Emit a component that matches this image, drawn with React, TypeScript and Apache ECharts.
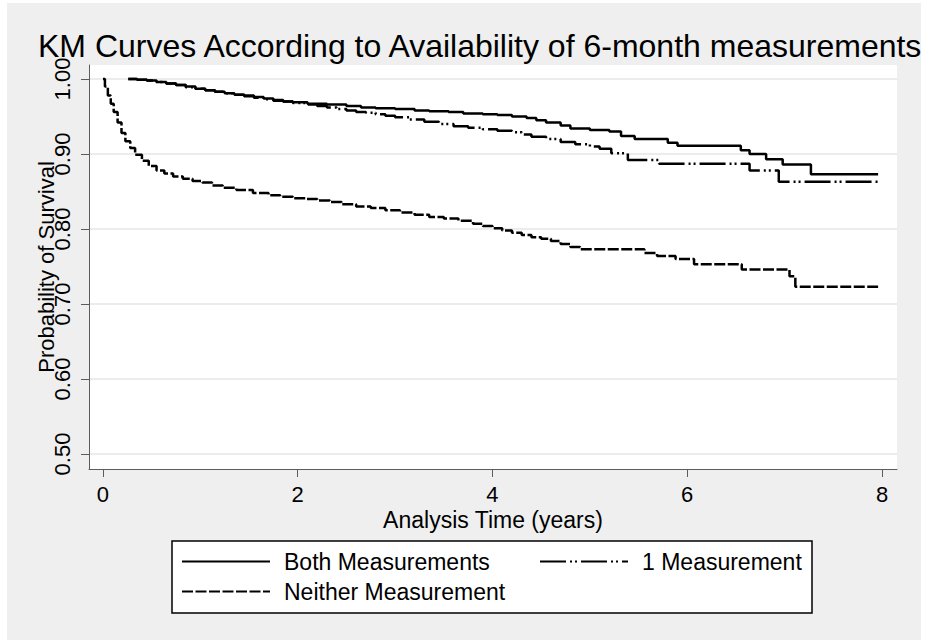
import React, { useEffect, useRef } from "react";
import * as echarts from "echarts";

// Kaplan-Meier estimates: [time of event in years, survival after the event]
const bothTimes = [
  0.26, 0.35, 0.45, 0.55, 0.65, 0.75, 0.85, 0.95, 1.05, 1.15, 1.25, 1.35, 1.45,
  1.55, 1.65, 1.75, 1.85, 1.95, 2.1, 2.3, 2.5, 2.65, 2.8, 3.0, 3.2, 3.35, 3.55,
  3.7, 3.9, 4.05, 4.2, 4.35, 4.45, 4.55, 4.7, 4.8, 5.0, 5.2, 5.32, 5.46, 5.8,
  5.9, 6.55, 6.64, 6.81, 6.98, 7.27, 7.96,
];
const bothSurvival = [
  1.0, 0.999, 0.998, 0.996, 0.994, 0.992, 0.99, 0.987, 0.985, 0.983, 0.981,
  0.979, 0.978, 0.976, 0.974, 0.972, 0.97, 0.969, 0.967, 0.966, 0.964, 0.962,
  0.961, 0.96, 0.958, 0.957, 0.956, 0.954, 0.953, 0.952, 0.95, 0.948, 0.945,
  0.942, 0.938, 0.934, 0.932, 0.93, 0.924, 0.92, 0.915, 0.911, 0.905, 0.9,
  0.893, 0.886, 0.873, 0.873,
];

const oneTimes = [
  0.26, 0.35, 0.45, 0.55, 0.65, 0.75, 0.85, 0.95, 1.05, 1.15, 1.25, 1.35, 1.45,
  1.55, 1.65, 1.75, 1.85, 1.95, 2.1, 2.2, 2.3, 2.4, 2.5, 2.6, 2.7, 2.8, 2.9,
  3.0, 3.15, 3.3, 3.45, 3.6, 3.75, 3.9, 4.05, 4.2, 4.3, 4.4, 4.55, 4.7, 4.85,
  5.0, 5.1, 5.22, 5.39, 5.71, 6.64, 6.94, 7.96,
];
const oneSurvival = [
  1.0, 0.999, 0.998, 0.996, 0.994, 0.992, 0.989, 0.987, 0.985, 0.983, 0.981,
  0.979, 0.977, 0.975, 0.973, 0.971, 0.97, 0.968, 0.966, 0.964, 0.962, 0.96,
  0.958, 0.956, 0.955, 0.953, 0.951, 0.949, 0.946, 0.943, 0.94, 0.937, 0.935,
  0.933, 0.931, 0.929, 0.926, 0.923, 0.92, 0.916, 0.913, 0.91, 0.907, 0.901,
  0.892, 0.887, 0.878, 0.863, 0.863,
];

const neitherTimes = [
  0, 0.02, 0.05, 0.08, 0.11, 0.15, 0.19, 0.23, 0.28, 0.33, 0.4, 0.47, 0.55,
  0.63, 0.72, 0.82, 0.92, 1.02, 1.12, 1.23, 1.37, 1.54, 1.7, 1.82, 1.95, 2.09,
  2.2, 2.33, 2.45, 2.6, 2.75, 2.9, 3.05, 3.2, 3.35, 3.5, 3.65, 3.8, 3.9, 4.0,
  4.1, 4.2, 4.3, 4.4, 4.5, 4.6, 4.7, 4.8, 4.9, 5.56, 5.69, 5.88, 6.07, 6.56,
  7.05, 7.11, 7.96,
];
const neitherSurvival = [
  1.0, 0.99, 0.978, 0.967, 0.956, 0.942, 0.928, 0.917, 0.908, 0.899, 0.891,
  0.884, 0.878, 0.874, 0.87, 0.867, 0.864, 0.862, 0.858, 0.855, 0.852, 0.848,
  0.845, 0.843, 0.841, 0.84, 0.838, 0.836, 0.833, 0.83, 0.828, 0.825, 0.822,
  0.819, 0.816, 0.814, 0.811, 0.807, 0.804, 0.801, 0.798, 0.795, 0.792, 0.789,
  0.787, 0.784, 0.78, 0.776, 0.773, 0.768, 0.764, 0.76, 0.753, 0.746, 0.737,
  0.723, 0.723,
];

const seriesNames = ["Both Measurements", "1 Measurement", "Neither Measurement"];
const xTicks = [0, 2, 4, 6, 8];
const yTicks = [0.5, 0.6, 0.7, 0.8, 0.9, 1.0];

const FONT = "'Liberation Sans', Arial, Helvetica, sans-serif";

const pairs = (t: number[], s: number[]) => t.map((x, i) => [x, s[i]]);

export default function App() {
  const ref = useRef<HTMLDivElement>(null);

  useEffect(() => {
    if (!ref.current) return;
    const chart = echarts.init(ref.current, null, { renderer: "svg" });

    const axisColor = "#5c5c5c";
    const legendText = { fontSize: 23, color: "#000", fontFamily: FONT, padding: [0, 0, 0, 9] };
    // line keys only, no marker dot in the legend
    const legendBase = {
      padding: 0,
      itemWidth: 88,
      itemHeight: 14,
      textStyle: legendText,
      selectedMode: false,
      itemStyle: { opacity: 0, color: "transparent", borderWidth: 0 },
    };

    chart.setOption({
      animation: false,
      backgroundColor: "transparent",
      textStyle: { fontFamily: FONT },
      title: {
        text: "KM Curves According to Availability of 6-month measurements",
        left: 38,
        top: 30,
        padding: 0,
        textStyle: { fontSize: 32, fontWeight: "normal", color: "#000", fontFamily: FONT },
      },
      grid: {
        left: 89,
        right: 43,
        top: 65,
        bottom: 171,
        show: true,
        backgroundColor: "#ffffff",
        borderWidth: 0,
      },
      xAxis: {
        type: "value",
        min: -0.1436,
        max: 8.154,
        name: "Analysis Time (years)",
        nameLocation: "middle",
        nameGap: 39,
        nameMoveOverlap: false,
        nameTextStyle: { fontSize: 23, color: "#000", fontFamily: FONT },
        axisLine: { show: true, onZero: false, lineStyle: { color: axisColor, width: 1 } },
        axisTick: { show: true, length: 8, customValues: xTicks, lineStyle: { color: axisColor } },
        axisLabel: {
          customValues: xTicks,
          margin: 14,
          fontSize: 22,
          color: "#000",
          fontFamily: FONT,
          formatter: (v: number) => String(v),
        },
        splitLine: { show: false },
      },
      yAxis: {
        type: "value",
        min: 0.48,
        max: 1.0187,
        name: "Probability of Survival",
        nameLocation: "middle",
        nameRotate: 90,
        nameGap: 32,
        nameMoveOverlap: false,
        nameTextStyle: { fontSize: 22, color: "#000", fontFamily: FONT },
        axisLine: { show: true, onZero: false, lineStyle: { color: axisColor, width: 1 } },
        axisTick: { show: true, length: 8, customValues: yTicks, lineStyle: { color: axisColor } },
        axisLabel: {
          customValues: yTicks,
          rotate: 90,
          margin: 16,
          fontSize: 22,
          color: "#000",
          fontFamily: FONT,
          formatter: (v: number) => v.toFixed(2),
        },
        splitLine: { show: true, lineStyle: { color: "#e6e6e6", width: 1.5 } },
      },
      legend: [
        { ...legendBase, data: [seriesNames[0]], left: 181, top: 550 },
        { ...legendBase, data: [seriesNames[1]], left: 539, top: 550 },
        { ...legendBase, data: [seriesNames[2]], left: 181, top: 580 },
      ],
      graphic: [
        {
          type: "rect",
          shape: { x: 172, y: 541, width: 640, height: 72 },
          style: { fill: "#ffffff", stroke: "#000", lineWidth: 1.5 },
          z: 0,
          silent: true,
        },
      ],
      series: [
        {
          name: seriesNames[0],
          type: "line",
          step: "end",
          symbol: "none",
          data: pairs(bothTimes, bothSurvival),
          lineStyle: { color: "#000", width: 2.5, type: "solid" },
          itemStyle: { color: "#000" },
        },
        {
          name: seriesNames[1],
          type: "line",
          step: "end",
          symbol: "none",
          data: pairs(oneTimes, oneSurvival),
          lineStyle: { color: "#000", width: 2.5, type: [26, 4, 2, 3, 2, 4] },
          itemStyle: { color: "#000" },
        },
        {
          name: seriesNames[2],
          type: "line",
          step: "end",
          symbol: "none",
          data: pairs(neitherTimes, neitherSurvival),
          lineStyle: { color: "#000", width: 2.5, type: [11, 2.5] },
          itemStyle: { color: "#000" },
        },
      ],
    });

    return () => chart.dispose();
  }, []);

  return (
    <div style={{ position: "fixed", left: 0, top: 0, width: 940, height: 640, background: "#ffffff" }}>
      <div
        style={{ position: "absolute", left: 7, top: 3, width: 914, height: 637, background: "#efefef" }}
      />
      <div ref={ref} style={{ position: "absolute", left: 0, top: 0, width: 940, height: 640 }} />
    </div>
  );
}
